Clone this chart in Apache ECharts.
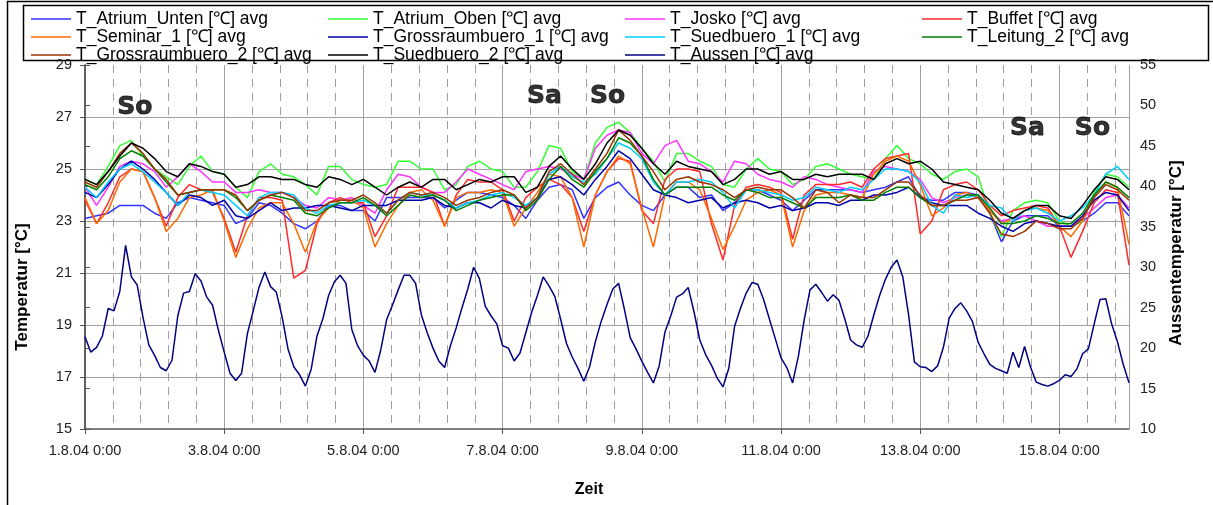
<!DOCTYPE html>
<html>
<head>
<meta charset="utf-8">
<script src="https://cdn.jsdelivr.net/npm/echarts@6/dist/echarts.min.js"></script>
<style>
  html, body { margin: 0; padding: 0; background: #fff; }
  #chart { width: 1213px; height: 505px; }
</style>
</head>
<body>
<div id="chart"></div>
<script>
var FONT = '"Liberation Sans", Arial, sans-serif';

// hours after 1.8.04 0:00 ; indoor sensors read every 4 h, outdoor every 2 h
var STEP_IN = 4;
var STEP_OUT = 2;
var xTickLabels = ['1.8.04 0:00', '3.8.04 0:00', '5.8.04 0:00', '7.8.04 0:00',
  '9.8.04 0:00', '11.8.04 0:00', '13.8.04 0:00', '15.8.04 0:00'];

var atriumUnten = [
  23.1, 23.2, 23.3, 23.6, 23.6, 23.6, 23.3, 23.1, 23.7, 23.9, 23.8, 23.7, 23.6, 22.9, 23.1, 23.7, 23.6, 23.3, 22.9, 22.7, 23.0, 23.6, 23.6,
  23.4, 23.4, 23.0, 23.9, 23.9, 23.9, 23.9, 23.9, 23.5, 23.8, 24.1, 24.1, 24.0, 23.9, 23.6, 23.1, 23.8, 24.3, 24.4, 24.2, 23.1, 23.9, 24.3,
  24.5, 24.0, 23.6, 23.4, 24.0, 24.3, 24.3, 23.9, 24.0, 23.4, 23.7, 24.2, 24.2, 24.0, 23.8, 23.4, 23.8, 24.2, 24.2, 24.2, 24.2, 24.1,
  24.2, 24.3, 24.5, 24.7, 23.9, 23.8, 23.8, 24.1, 24.1, 24.0, 23.3, 22.2, 23.0, 23.2, 23.2, 23.2, 22.8, 22.8, 23.0, 23.3, 23.7, 23.7, 23.2
];
var atriumOben = [
  24.6, 24.4, 25.1, 25.9, 26.1, 25.5, 25.0, 24.7, 24.4, 25.1, 25.5, 24.9, 24.8, 24.3, 23.9, 24.9, 25.2, 24.8, 24.7, 24.4, 24.0, 25.1, 25.1,
  24.6, 24.4, 24.3, 24.4, 25.3, 25.3, 25.0, 25.0, 24.2, 24.4, 25.1, 25.3, 25.0, 24.9, 24.3, 24.3, 24.9, 25.9, 25.8, 24.9, 24.6, 26.0, 26.6,
  26.8, 26.4, 25.8, 25.3, 24.5, 25.6, 25.6, 25.3, 25.1, 24.4, 24.3, 25.0, 25.4, 25.0, 24.9, 24.4, 24.6, 25.1, 25.2, 25.0, 24.8, 24.7,
  24.6, 25.4, 25.9, 25.4, 25.2, 24.8, 24.6, 24.9, 25.0, 24.7, 23.3, 22.4, 23.4, 23.7, 23.8, 23.7, 23.0, 22.8, 23.0, 24.1, 24.8, 24.7, 24.3
];
var josko = [
  24.3, 23.6, 24.3, 25.1, 25.3, 25.2, 24.9, 24.3, 24.7, 25.2, 24.9, 24.5, 24.5, 24.1, 24.1, 24.2, 24.1, 24.1, 23.9, 23.6, 23.5, 23.9, 23.8,
  23.9, 23.6, 23.3, 24.2, 24.8, 24.7, 24.3, 24.1, 24.1, 24.5, 25.0, 24.8, 24.6, 24.4, 24.2, 24.9, 25.0, 25.1, 25.0, 24.8, 24.6, 25.8, 26.3,
  26.5, 26.4, 25.6, 25.2, 25.9, 26.1, 25.3, 25.2, 24.9, 24.5, 25.3, 25.2, 24.8, 24.6, 24.5, 24.3, 24.7, 24.6, 24.4, 24.3, 24.2, 24.1,
  24.9, 25.1, 25.0, 24.9, 24.6, 23.9, 23.7, 23.9, 24.0, 23.9, 23.4, 23.0, 23.1, 23.2, 23.0, 22.8, 22.8, 22.8, 23.1, 23.5, 23.9, 24.0, 23.5
];
var buffet = [
  23.8, 22.9, 23.7, 24.7, 25.0, 24.9, 23.9, 22.8, 23.9, 24.4, 24.2, 24.1, 23.1, 21.8, 23.2, 23.9, 23.9, 23.8, 20.8, 21.1, 22.9, 23.7, 23.9,
  23.7, 23.7, 22.4, 23.2, 24.3, 24.3, 24.3, 24.1, 22.8, 24.0, 24.6, 24.5, 24.5, 24.2, 23.0, 23.9, 24.3, 24.6, 24.4, 23.9, 22.6, 24.0, 24.9,
  25.4, 25.3, 23.4, 22.9, 24.6, 25.0, 25.0, 24.9, 22.9, 21.5, 23.6, 24.3, 24.4, 24.3, 24.1, 22.3, 24.0, 24.4, 24.4, 24.4, 24.5, 24.3,
  25.0, 25.4, 25.5, 25.6, 22.5, 23.0, 24.2, 24.4, 24.5, 24.2, 23.6, 23.2, 23.4, 23.5, 23.6, 23.5, 22.8, 21.6, 22.6, 23.7, 24.2, 24.1, 21.3
];
var seminar1 = [
  23.9, 22.9, 23.4, 24.5, 25.0, 24.9, 23.9, 22.6, 23.1, 23.9, 24.0, 24.2, 23.0, 21.6, 22.7, 23.5, 23.7, 23.7, 22.9, 21.8, 23.0, 23.5, 23.8,
  23.8, 23.5, 22.0, 22.9, 23.6, 24.1, 24.2, 23.8, 22.8, 23.9, 24.1, 24.1, 24.2, 24.1, 22.8, 23.5, 24.1, 24.8, 24.7, 23.9, 22.0, 24.0, 24.9,
  25.5, 25.2, 23.5, 22.0, 24.0, 24.5, 24.5, 24.2, 23.1, 21.9, 22.8, 23.8, 24.1, 24.2, 24.0, 22.0, 23.4, 24.0, 24.1, 24.1, 24.0, 23.9,
  24.8, 25.3, 25.5, 25.3, 24.4, 23.2, 23.5, 24.0, 24.1, 23.9, 23.4, 22.9, 23.1, 23.4, 23.5, 23.4, 22.8, 22.4, 23.0, 24.0, 24.5, 24.3, 22.1
];
var grossraum1 = [
  24.1, 23.9, 24.4, 25.0, 25.3, 25.0, 24.6, 24.1, 23.6, 24.0, 23.9, 23.6, 23.8, 23.2, 23.1, 23.4, 23.7, 23.4, 23.5, 23.5, 23.6, 23.6, 23.5,
  23.4, 23.6, 23.6, 23.6, 23.8, 23.8, 23.8, 23.9, 23.6, 23.5, 23.7, 23.7, 23.5, 23.8, 23.6, 23.5, 23.9, 24.6, 24.7, 24.4, 24.0, 24.6, 25.1,
  25.7, 25.4, 24.8, 24.2, 24.0, 23.9, 23.7, 23.8, 23.9, 23.5, 23.7, 23.8, 23.7, 23.5, 23.6, 23.4, 23.5, 23.7, 23.7, 23.6, 23.8, 23.8,
  24.0, 24.0, 24.1, 24.3, 23.9, 23.7, 23.6, 23.6, 23.6, 23.3, 23.1, 22.8, 22.6, 22.9, 23.0, 22.9, 22.8, 22.8, 23.2, 23.8, 24.1, 24.0, 23.4
];
var suedbuero1 = [
  24.3, 23.9, 24.5, 25.0, 25.2, 24.9, 24.5, 24.1, 23.6, 24.1, 24.2, 24.1, 24.0, 23.6, 23.2, 23.9, 24.1, 24.1, 24.0, 23.5, 23.3, 23.6, 23.7,
  23.7, 23.8, 23.6, 23.3, 23.8, 24.1, 24.0, 24.0, 23.8, 23.5, 23.7, 23.8, 24.0, 24.1, 23.9, 23.6, 23.9, 24.8, 25.1, 24.7, 24.5, 24.8, 25.4,
  26.0, 25.8, 25.4, 24.5, 24.0, 24.5, 24.5, 24.6, 24.5, 24.1, 23.5, 24.2, 24.2, 24.1, 24.0, 23.8, 23.9, 24.3, 24.2, 24.1, 24.3, 24.2,
  24.6, 25.0, 25.0, 24.9, 24.5, 23.6, 23.3, 24.0, 23.9, 24.0, 23.6, 23.5, 23.0, 23.4, 23.5, 23.3, 23.0, 23.2, 23.5, 24.0, 24.8, 25.1, 24.6
];
var leitung2 = [
  24.4, 24.2, 24.7, 25.4, 25.7, 25.5, 25.0, 24.5, 24.0, 24.1, 24.2, 24.2, 24.2, 23.9, 23.4, 23.8, 24.0, 23.9, 23.8, 23.3, 23.2, 23.5, 23.7,
  23.7, 23.9, 23.6, 23.2, 23.6, 24.0, 23.9, 24.0, 23.8, 23.4, 23.6, 23.8, 23.9, 24.0, 24.0, 23.4, 23.8, 24.6, 25.1, 24.6, 24.3, 24.9, 25.4,
  26.2, 26.0, 25.5, 24.6, 24.0, 24.3, 24.3, 24.3, 24.3, 24.0, 23.8, 24.2, 24.1, 23.9, 23.9, 23.7, 23.5, 23.9, 23.9, 23.9, 24.0, 23.8,
  23.8, 24.1, 24.3, 24.3, 23.9, 23.6, 23.6, 23.8, 24.0, 24.0, 23.5, 22.9, 22.9, 23.0, 23.2, 23.1, 22.9, 22.9, 23.3, 24.0, 24.5, 24.3, 23.9
];
var grossraum2 = [
  24.5, 24.3, 24.9, 25.6, 26.0, 25.6, 25.0, 24.6, 24.0, 24.1, 24.2, 24.2, 24.2, 24.0, 23.4, 23.8, 24.0, 24.1, 23.9, 23.4, 23.4, 23.7, 23.8,
  23.8, 24.0, 23.7, 23.3, 23.8, 24.1, 24.0, 24.1, 23.9, 23.6, 23.8, 23.9, 24.1, 24.2, 24.0, 23.5, 23.9, 24.9, 25.2, 24.8, 24.4, 25.0, 25.6,
  26.5, 26.1, 25.5, 24.9, 24.2, 24.6, 24.7, 24.5, 24.4, 24.2, 23.9, 24.2, 24.3, 24.2, 24.2, 23.9, 23.5, 24.2, 24.1, 23.7, 24.0, 23.9,
  23.9, 24.2, 24.5, 24.5, 24.0, 23.6, 23.6, 23.8, 23.8, 23.9, 23.3, 22.5, 22.4, 22.6, 23.0, 22.9, 22.7, 22.7, 23.1, 23.9, 24.4, 24.2, 23.8
];
var suedbuero2 = [
  24.6, 24.4, 24.9, 25.5, 26.0, 25.8, 25.4, 24.9, 24.7, 25.2, 25.1, 24.9, 24.8, 24.3, 24.4, 24.7, 24.7, 24.6, 24.6, 24.4, 24.3, 24.7, 24.6,
  24.4, 24.6, 24.3, 24.0, 24.3, 24.5, 24.3, 24.6, 24.6, 24.2, 24.4, 24.6, 24.5, 24.7, 24.7, 24.1, 24.3, 25.1, 25.5, 25.0, 24.6, 25.2, 26.0,
  26.5, 26.3, 25.8, 25.2, 24.8, 25.3, 25.1, 25.0, 24.9, 24.4, 24.6, 25.0, 25.0, 24.8, 24.9, 24.6, 24.6, 24.8, 24.7, 24.8, 24.8, 24.8,
  24.6, 25.2, 25.4, 25.2, 25.3, 25.0, 24.5, 24.4, 24.3, 24.2, 23.8, 23.3, 23.1, 23.4, 23.6, 23.6, 23.2, 23.1, 23.6, 24.2, 24.7, 24.6, 24.2
];
var aussen = [
  21.4, 19.5, 20.1, 21.5, 24.9, 24.6, 27.0, 32.7, 28.8, 27.8, 23.8, 20.4, 19.1, 17.6, 17.2, 18.5, 24.0, 26.8, 27.0, 29.2, 28.3, 26.3, 25.3,
  22.2, 19.5, 16.9, 16.0, 16.9, 21.8, 24.6, 27.5, 29.4, 27.6, 26.9, 23.8, 19.9, 17.7, 16.7, 15.3, 17.4, 21.5, 23.6, 26.5, 28.2, 29.0, 28.0,
  22.3, 20.3, 19.1, 18.4, 17.0, 19.8, 23.5, 25.3, 27.2, 29.0, 29.0, 28.0, 24.1, 21.9, 20.0, 18.4, 17.6, 20.3, 22.5, 25.0, 27.3, 30.0, 28.6,
  25.2, 24.0, 23.0, 20.3, 20.0, 18.4, 19.4, 21.9, 24.4, 26.5, 28.8, 27.7, 26.4, 23.6, 20.6, 18.9, 17.5, 15.9, 17.7, 20.8, 23.3, 25.4,
  27.3, 28.0, 24.8, 21.3, 19.9, 18.4, 17.0, 15.7, 17.8, 22.0, 24.0, 26.3, 26.7, 27.5, 24.5, 21.0, 19.2, 17.9, 16.3, 15.2, 17.5, 22.7,
  24.9, 26.8, 28.1, 27.9, 26.0, 23.6, 21.2, 18.8, 17.6, 15.7, 19.0, 23.5, 27.2, 27.9, 26.9, 25.8, 26.6, 25.9, 23.6, 21.0, 20.4, 20.1,
  21.5, 24.1, 26.5, 28.5, 30.0, 30.9, 28.8, 24.1, 18.3, 17.7, 17.6, 17.1, 17.8, 20.1, 23.7, 24.9, 25.6, 24.6, 23.3, 20.7, 19.3, 18.0, 17.5,
  17.2, 16.9, 19.5, 17.6, 20.2, 17.7, 15.8, 15.5, 15.3, 15.6, 16.0, 16.7, 16.5, 17.4, 19.3, 19.9, 23.0, 26.0, 26.1, 23.0, 20.8, 18.0, 15.7
];

// weekend markers: [text, hour, temperature]
var weekendMarks = [
  ['So', 17.2, 27.35],
  ['Sa', 158.4, 27.8],
  ['So', 180.2, 27.8],
  ['Sa', 325, 26.55],
  ['So', 347.4, 26.55]
];

var indoor = [
  ['T_Atrium_Unten [℃] avg', atriumUnten, '#3333ff'],
  ['T_Atrium_Oben [℃] avg', atriumOben, '#33ff33'],
  ['T_Josko [℃] avg', josko, '#ff33ff'],
  ['T_Buffet [℃] avg', buffet, '#ff2a2a'],
  ['T_Seminar_1 [℃] avg', seminar1, '#ff6a00'],
  ['T_Grossraumbuero_1 [℃] avg', grossraum1, '#0000a8'],
  ['T_Suedbuero_1 [℃] avg', suedbuero1, '#00ccff'],
  ['T_Leitung_2 [℃] avg', leitung2, '#008000'],
  ['T_Grossraumbuero_2 [℃] avg', grossraum2, '#993300'],
  ['T_Suedbuero_2 [℃] avg', suedbuero2, '#000000']
];
var aussenName = 'T_Aussen [℃] avg';

function toPairs(values, step) {
  return values.map(function (v, i) { return [i * step, v]; });
}

var series = indoor.map(function (s) {
  return {
    name: s[0], type: 'line', data: toPairs(s[1], STEP_IN),
    xAxisIndex: 0, yAxisIndex: 0, showSymbol: false, symbol: 'none',
    color: s[2], lineStyle: { color: s[2], width: 1.5 }
  };
});
series.push({
  name: aussenName, type: 'line', data: toPairs(aussen, STEP_OUT),
  xAxisIndex: 0, yAxisIndex: 1, showSymbol: false, symbol: 'none',
  color: '#000080', lineStyle: { color: '#000080', width: 1.5 }
});
series.push({
  name: 'marks', type: 'scatter', silent: true, symbolSize: 1,
  itemStyle: { color: 'rgba(0,0,0,0)' },
  data: weekendMarks.map(function (m) { return { name: m[0], value: [m[1], m[2]] }; }),
  label: {
    show: true, position: 'inside', formatter: '{b}',
    fontFamily: '"DejaVu Sans", Verdana, sans-serif', fontWeight: 'bold', fontSize: 25,
    color: '#000', textBorderColor: '#000', textBorderWidth: 0.8
  }
});

var names = indoor.map(function (s) { return s[0]; }).concat([aussenName]);
var legendCols = [
  { left: 31, items: [names[0], names[4], names[8]] },
  { left: 328, items: [names[1], names[5], names[9]] },
  { left: 625, items: [names[2], names[6], names[10]] },
  { left: 922, items: [names[3], names[7]] }
];
var legends = legendCols.map(function (c) {
  return {
    data: c.items, left: c.left, top: 10, orient: 'vertical', itemGap: 0,
    padding: 0, icon: 'rect', itemWidth: 40, itemHeight: 1.6, selectedMode: false,
    textStyle: { fontFamily: FONT, fontSize: 17.5, lineHeight: 16.7, color: '#000' }
  };
});

var axisColor = '#555';
var gridColor = '#a0a0a0';

var option = {
  animation: false,
  backgroundColor: '#fff',
  legend: legends,
  grid: { left: 85, right: 84, top: 65, bottom: 76, outerBoundsMode: 'none' },
  xAxis: [{
    type: 'value', min: 0, max: 360, interval: 48,
    axisLine: { onZero: false, lineStyle: { color: axisColor, width: 1.5 } },
    axisTick: { length: 5, lineStyle: { color: axisColor } },
    axisLabel: {
      showMaxLabel: false, margin: 14, fontFamily: FONT, fontSize: 14.5, color: '#222',
      formatter: function (v) { return xTickLabels[Math.round(v / 48)] || ''; }
    },
    splitLine: { show: true, showMinLine: false, lineStyle: { color: gridColor, width: 1 } }
  }, {
    type: 'value', min: 0, max: 360, interval: 9.6, position: 'top',
    axisLine: { show: false }, axisTick: { show: false }, axisLabel: { show: false },
    splitLine: { show: true, showMinLine: false, showMaxLine: false,
      lineStyle: { color: gridColor, width: 1, type: [8, 6] } }
  }],
  yAxis: [{
    type: 'value', min: 15, max: 29, interval: 2,
    axisLine: { show: true, lineStyle: { color: axisColor, width: 1.5 } },
    axisTick: { show: true, length: 5, lineStyle: { color: axisColor } },
    axisLabel: { margin: 13, fontFamily: FONT, fontSize: 14.5, color: '#222' },
    splitLine: { show: true, showMaxLine: false, showMinLine: false, lineStyle: { color: gridColor, width: 1 } }
  }, {
    type: 'value', min: 10, max: 55, interval: 5, position: 'right',
    axisLine: { show: true, lineStyle: { color: axisColor, width: 1.5 } },
    axisTick: { show: true, length: 5, lineStyle: { color: axisColor } },
    axisLabel: { margin: 11, fontFamily: FONT, fontSize: 14.5, color: '#222' },
    splitLine: { show: false }
  }],
  graphic: [
    { type: 'polyline', silent: true, shape: { points: [[7.5, 505], [7.5, 1.5], [1213, 1.5]] },
      style: { stroke: '#000', lineWidth: 1.5, fill: null } },
    { type: 'rect', silent: true, shape: { x: 23.5, y: 5.5, width: 1185, height: 55 },
      style: { stroke: '#000', lineWidth: 1.5, fill: null } },
    { type: 'text', silent: true, x: 22, y: 287, rotation: Math.PI / 2,
      style: { text: 'Temperatur [°C]', font: 'bold 17px ' + FONT, fill: '#000', align: 'center', verticalAlign: 'middle' } },
    { type: 'text', silent: true, x: 1176, y: 253, rotation: Math.PI / 2,
      style: { text: 'Aussentemperatur [°C]', font: 'bold 17px ' + FONT, fill: '#000', align: 'center', verticalAlign: 'middle' } },
    { type: 'text', silent: true, x: 589, y: 490,
      style: { text: 'Zeit', font: 'bold 16px ' + FONT, fill: '#000', align: 'center', verticalAlign: 'middle' } }
  ],
  series: series
};

var chart = echarts.init(document.getElementById('chart'));
chart.setOption(option);
</script>
</body>
</html>
